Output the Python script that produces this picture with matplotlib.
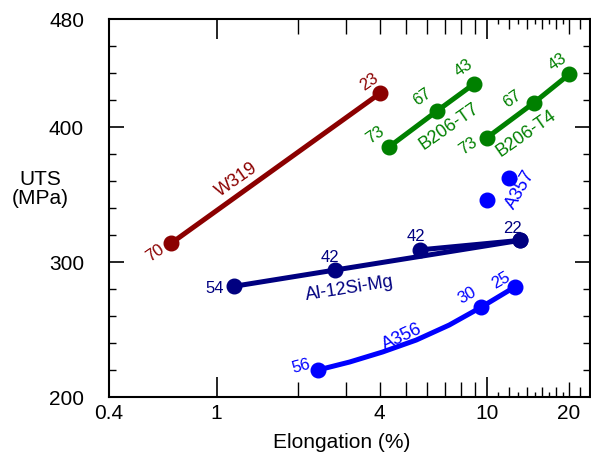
import matplotlib
matplotlib.use("Agg")
import matplotlib.pyplot as plt
from matplotlib.ticker import FixedLocator, FuncFormatter, MultipleLocator

plt.rcParams['font.family'] = ['Liberation Sans', 'DejaVu Sans']

# elongation (%) / UTS (MPa)
w319_el = [0.68, 4.02]
w319_uts = [314, 425]
w319_num = ['70', '23']

t7_el = [4.32, 6.54, 8.95]
t7_uts = [385, 412, 432]
t7_num = ['73', '67', '43']

t4_el = [9.97, 14.9, 20.1]
t4_uts = [392, 418, 439]
t4_num = ['73', '67', '43']

a357_el = [9.97, 12.05]
a357_uts = [346, 362]

alsi_el = [1.16, 2.73, 13.2]
alsi_uts = [282, 294, 316]
alsi_num = ['54', '42', '22']
alsi2_el = [5.65, 13.2]
alsi2_uts = [309, 316]
alsi2_num = ['42', '']

a356_el = [2.37, 9.48, 12.7]
a356_uts = [220, 266.4, 281.7]
a356_num = ['56', '30', '25']
a356_curve_el = [2.37, 3.10, 4.10, 5.47, 7.24, 9.48, 12.7]
a356_curve_uts = [220, 225.9, 233.3, 242.2, 253.3, 266.4, 281.7]

RED = '#8b0000'
GREEN = '#008000'
NAVY = '#000080'
BLUE = '#0000ff'

fig = plt.figure(figsize=(5.91, 4.58), dpi=100)
ax = fig.add_axes([109 / 591, 1 - 397 / 458, 481 / 591, 378 / 458])

lw = 3.6
ms = 10.5
ax.plot(w319_el, w319_uts, '-o', color=RED, lw=lw, ms=ms)
ax.plot(t7_el, t7_uts, '-o', color=GREEN, lw=lw, ms=ms)
ax.plot(t4_el, t4_uts, '-o', color=GREEN, lw=lw, ms=ms)
ax.plot(a357_el, a357_uts, 'o', color=BLUE, ms=ms)
ax.plot(alsi_el, alsi_uts, '-o', color=NAVY, lw=lw, ms=ms)
ax.plot(alsi2_el, alsi2_uts, '-o', color=NAVY, lw=lw, ms=ms)
ax.plot(a356_curve_el, a356_curve_uts, '-', color=BLUE, lw=lw)
ax.plot(a356_el, a356_uts, 'o', color=BLUE, ms=ms)


def numbers(xs, ys, labels, offsets, rot, color):
    for x, y, s, off in zip(xs, ys, labels, offsets):
        if s:
            ax.annotate(s, (x, y), xytext=off, textcoords='offset points',
                        ha='center', va='center', rotation=rot, color=color,
                        fontsize=12)


numbers(w319_el, w319_uts, w319_num, [(-11.5, -7.4), (-7.7, 7.9)], 35, RED)
numbers(t7_el, t7_uts, t7_num, [(-10, 8.6), (-10.8, 10), (-7.2, 11.5)], 35, GREEN)
numbers(t4_el, t4_uts, t4_num, [(-13.7, -5.8), (-15.6, 2.4), (-8.4, 9.1)], 35, GREEN)
numbers(alsi_el, alsi_uts, alsi_num, [(-13.7, -1.7), (-3.6, 9.4), (-5.3, 8.4)], 0, NAVY)
numbers(alsi2_el, alsi2_uts, alsi2_num, [(-2.9, 9.6), (0, 0)], 0, NAVY)
for x, y, s, off, r in zip(a356_el, a356_uts, a356_num,
                           [(-12, 2.4), (-9.6, 8.9), (-10.3, 4.8)], [15, 30, 30]):
    ax.annotate(s, (x, y), xytext=off, textcoords='offset points',
                ha='center', va='center', rotation=r, color=BLUE, fontsize=12)

# alloy names
ax.text(1.185, 360.7, 'W319', color=RED, rotation=35, fontsize=13, ha='center', va='center')
ax.text(7.24, 400.2, 'B206-T7', color=GREEN, rotation=35, fontsize=13, ha='center', va='center')
ax.text(13.9, 395.3, 'B206-T4', color=GREEN, rotation=35, fontsize=13, ha='center', va='center')
ax.text(13.3, 353.3, 'A357', color=BLUE, rotation=60, fontsize=13, ha='center', va='center')
ax.text(3.10, 280.5, 'Al-12Si-Mg', color=NAVY, rotation=9, fontsize=13, ha='center', va='center')
ax.text(4.87, 244.7, 'A356', color=BLUE, rotation=25, fontsize=13, ha='center', va='center')

ax.set_xscale('log')
ax.set_xlim(0.4, 24)
ax.set_ylim(200, 480)

fmt = lambda v, _: f'{v:g}'
ax.xaxis.set_major_locator(FixedLocator([0.4, 1, 10]))
ax.xaxis.set_major_formatter(FuncFormatter(fmt))
ax.xaxis.set_minor_locator(FixedLocator([2, 3, 4, 5, 6, 7, 8, 9, 20]))
ax.xaxis.set_minor_formatter(FuncFormatter(lambda v, _: f'{v:g}' if v in (4, 20) else ''))
ax.tick_params(axis='x', which='major', length=14.4, width=1.2, direction='in',
               top=True, labelsize=15, pad=5)
ax.tick_params(axis='x', which='minor', length=10.8, width=1.0, direction='in',
               top=True, labelsize=15, pad=5)

ax.yaxis.set_major_locator(FixedLocator([200, 300, 400, 480]))
ax.yaxis.set_minor_locator(MultipleLocator(20))
ax.tick_params(axis='y', which='major', length=10.8, width=1.2, direction='in',
               right=True, labelsize=15, pad=18)
ax.tick_params(axis='y', which='minor', length=5, width=1.0, direction='in', right=True)

# the short ticks between 10 and 24
for loc in ('bottom', 'top'):
    sec = ax.secondary_xaxis(loc)
    sec.spines[loc].set_visible(False)
    sec.xaxis.set_major_locator(FixedLocator([12, 14, 16, 18, 22]))
    sec.xaxis.set_minor_locator(FixedLocator([11, 13, 15, 17, 19]))
    sec.tick_params(which='major', length=7.2, width=1.0, direction='in',
                    labelbottom=False, labeltop=False)
    sec.tick_params(which='minor', length=3.6, width=1.0, direction='in',
                    labelbottom=False, labeltop=False)

for s in ax.spines.values():
    s.set_linewidth(1.5)

fig.text(40 / 591, 1 - 189 / 458, 'UTS\n(MPa)', ha='center', va='center',
         fontsize=15, linespacing=1.0)
fig.text(342 / 591, 1 - 443 / 458, 'Elongation (%)', ha='center', va='center', fontsize=15)

fig.savefig('out.png', dpi=100)
